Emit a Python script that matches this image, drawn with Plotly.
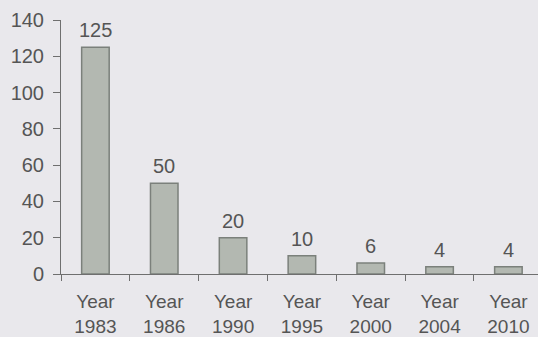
import plotly.graph_objects as go

categories = ["Year<br>1983", "Year<br>1986", "Year<br>1990", "Year<br>1995",
              "Year<br>2000", "Year<br>2004", "Year<br>2010"]
values = [125, 50, 20, 10, 6, 4, 4]
y_ticks = [0, 20, 40, 60, 80, 100, 120, 140]

txt = "#555555"
axis_col = "#6f6f6f"
bg = "#e9e8ec"
fam = "Liberation Sans, Arial"

fig = go.Figure(go.Bar(
    x=categories, y=values,
    width=0.4,
    marker=dict(color="#b3b8b1", line=dict(color="#7b807b", width=1.5)),
))

for c, v in zip(categories, values):
    fig.add_annotation(x=c, y=v, text=str(v), showarrow=False,
                       yanchor="bottom", yshift=4,
                       font=dict(size=20, color=txt, family=fam))

fig.update_layout(
    width=538, height=337,
    margin=dict(l=61, r=0, t=20, b=63),
    paper_bgcolor=bg, plot_bgcolor=bg,
    font=dict(family=fam, size=19, color=txt),
    showlegend=False,
    xaxis=dict(
        range=[-0.5, 6.43],
        showline=True, linecolor=axis_col, linewidth=1,
        ticks="outside", tickson="boundaries", ticklen=6, tickcolor=axis_col,
        showgrid=False, zeroline=False, ticklabelstandoff=10,
        tickfont=dict(size=19),
    ),
    yaxis=dict(
        range=[0, 140], tickvals=y_ticks,
        showline=True, linecolor=axis_col, linewidth=1,
        ticks="outside", ticklen=7, tickcolor=axis_col,
        showgrid=False, zeroline=False, ticklabelstandoff=5,
        tickfont=dict(size=20),
    ),
)

fig.write_html("out.html")
